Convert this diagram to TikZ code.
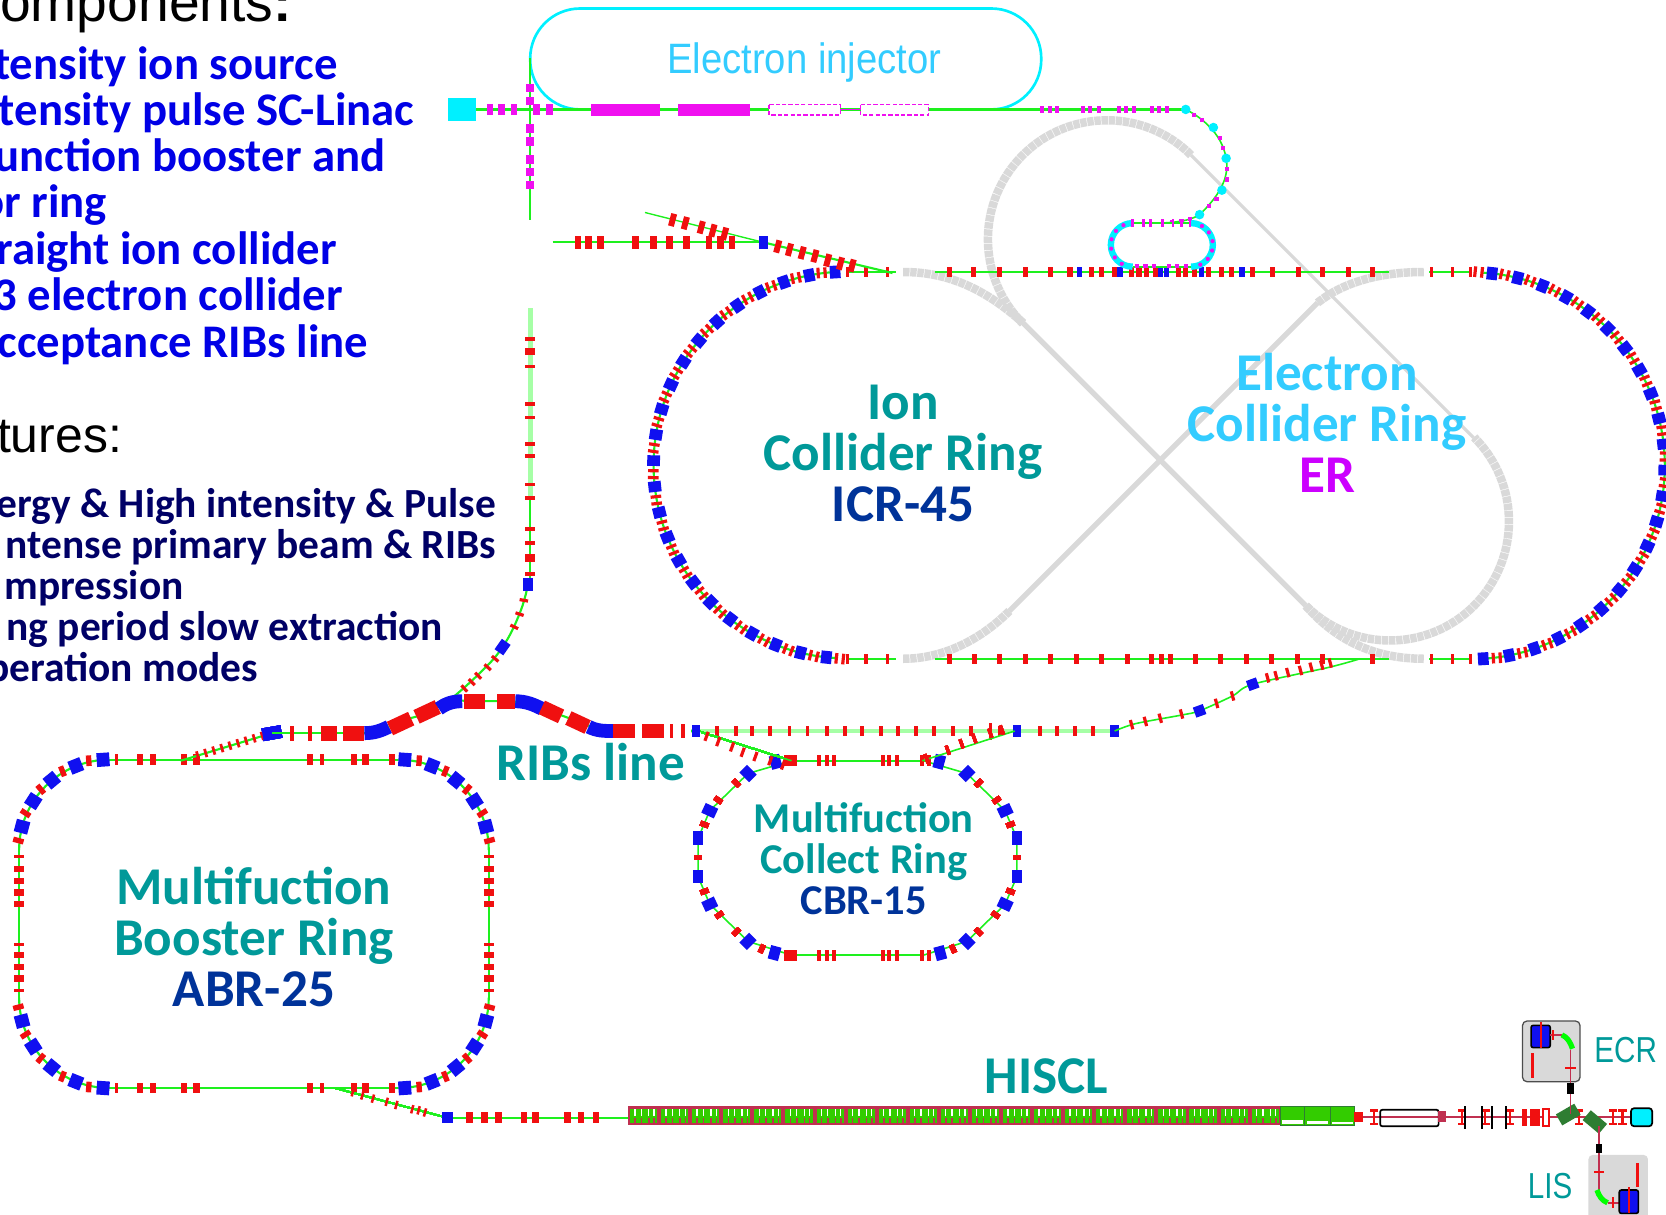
\documentclass[tikz,border=0pt]{standalone}
\usepackage{fontspec}
\setmainfont{Carlito}
\newfontfamily\arialfont{Liberation Sans}
\usetikzlibrary{decorations.markings}
\definecolor{beamgreen}{HTML}{1EF01E}
\definecolor{bendblue}{HTML}{1010F0}
\definecolor{quadred}{HTML}{F01010}
\definecolor{labelteal}{HTML}{009999}
\definecolor{labelblue}{HTML}{003399}
\definecolor{labelcyan}{HTML}{33CCFF}
\definecolor{labelmag}{HTML}{CC00FF}
\definecolor{listblue}{HTML}{0000E6}
\definecolor{listnavy}{HTML}{000066}
\definecolor{elmag}{HTML}{F010F0}
\definecolor{elcyan}{HTML}{00F0FF}
\definecolor{cellred}{HTML}{C03050}
\definecolor{cellgreen}{HTML}{33CC00}
\definecolor{bendgreen}{HTML}{2E7D32}
\definecolor{ergray}{HTML}{D9D9D9}
\newcommand{\hmags}[4]{\foreach \x in {#4} \fill[quadred] (\x-#2,#1-#3) rectangle (\x+#2,#1+#3);}
\newcommand{\vmags}[4]{\foreach \y in {#4} \fill[quadred] (#1-#3,\y-#2) rectangle (#1+#3,\y+#2);}
\newcommand{\magnet}[6]{\fill[#1,shift={(#2,#3)},rotate=#4] (-#5,-#6) rectangle (#5,#6);}
\newcommand{\icrcell}{\fill[bendblue] (-5,-6) rectangle (5,6); \fill[quadred] (8,-5) rectangle (11,5); \fill[quadred] (14.5,-5) rectangle (17.5,5);}
\newcommand{\abrcell}{\fill[bendblue] (-6,-6.5) rectangle (6,6.5); \fill[quadred] (11,-5) rectangle (16,5);}
\tikzset{
  beam/.style={beamgreen,line width=2},
  palebeam/.style={green!35,line width=4.5},
  bendcell/.style 2 args={postaction={decorate,decoration={markings,mark=between positions 0 and 1 step #1 with {#2}}}},
  erarc/.style={ergray,line width=8,dash pattern=on 6pt off .7pt},
  erline/.style={ergray,line width=5},
  ringlabel/.style={font=\bfseries\fontsize{50}{48}\selectfont,align=center,labelteal},
  smalllabel/.style={font=\bfseries\fontsize{40}{38.5}\selectfont,align=center,labelteal},
  bluelist/.style={anchor=base east,inner sep=0pt,font=\bfseries\fontsize{44}{44}\selectfont,listblue},
  navylist/.style={anchor=base east,inner sep=0pt,font=\bfseries\fontsize{39}{39}\selectfont,listnavy},
  headtext/.style={anchor=base east,inner sep=0pt,font=\arialfont\fontsize{52}{54}\selectfont},
  srclabel/.style={font=\arialfont\fontsize{34}{36}\selectfont,labelteal},
  srcbox/.style={fill=ergray,rounded corners=4pt},
}
\begin{document}
\begin{tikzpicture}[x=1pt,y=-1pt]
  \useasboundingbox (0,0) rectangle (1568,1143);
  \clip (0,0) rectangle (1568,1143);
  % left column
  \node[headtext] (headcomp) at (275,20) {omponents\textbf{:}};
  \node[bluelist] (listone) at (318,75) {tensity ion source};
  \node[bluelist] (listtwo) at (390,118) {tensity pulse SC-Linac};
  \node[bluelist] (listthree) at (363,161) {unction booster and};
  \node[bluelist] (listfour) at (101,205) {or ring};
  \node[bluelist] (listfive) at (317,249) {raight ion collider};
  \node[bluelist] (listsix) at (323,292) {3 electron collider};
  \node[bluelist] (listseven) at (347,336) {cceptance RIBs line};
  \node[headtext,font=\arialfont\fontsize{47}{49}\selectfont] (headfeat) at (115,426) {tures:};
  \node[navylist] (featone) at (467,487) {ergy \& High intensity \& Pulse};
  \node[navylist] (feattwo) at (467,526) {ntense primary beam \& RIBs};
  \node[navylist] (featthree) at (173,564) {mpression};
  \node[navylist] (featfour) at (417,603) {ng period slow extraction};
  \node[navylist] (featfive) at (243,641) {peration modes};
  % electron ring, gray
  \draw[erarc] (1121,146) arc (-45:-225:112);
  \draw[erarc] (1229,570) arc (135:-45:112);
  \draw[erline] (963,304) -- (1229,570);
  \draw[erline,line width=3] (1387,412) -- (1121,146);
  \draw[erline] (950,575) -- (1240,285);
  \draw[erarc] (850,256) .. controls (890,256) and (925,270) .. (963,304);
  \draw[erarc] (1229,570) .. controls (1255,600) and (1290,620) .. (1340,620);
  \draw[erarc] (850,620) .. controls (890,620) and (925,600) .. (950,575);
  \draw[erarc] (1240,285) .. controls (1265,265) and (1300,256) .. (1340,256);
  % ion collider ring
  \foreach \y in {256,620} {
    \draw[beam] (797,\y) -- (843,\y);
    \draw[beam] (880,\y) -- (1307,\y);
    \draw[beam] (1345,\y) -- (1385,\y);
    \hmags{\y}{1.5}{4.5}{798,815,835,1347,1367,1384}
  }
  \draw[beam,bendcell={24.6pt}{\icrcell}] (786,256) arc (-93.5:-266.5:182);
  \draw[beam,bendcell={24.6pt}{\icrcell}] (1396,620) arc (86.5:-86.5:182);
  \hmags{620}{2.4}{4.5}{894,917,941,965,989,1013,1037,1061,1084,1093,1102,1125,1149,1173,1197,1221,1245,1292}
  \hmags{256}{2.4}{4.5}{894,916,941,965,989,1007,1027,1037,1049,1065,1072,1079,1088,1109,1116,1124,1137,1150,1159,1179,1198,1222,1245,1269,1292}
  \foreach \x in {1016,1054,1092,1098,1131,1169} \fill[bendblue] (\x-2.5,251) rectangle (\x+2.5,261);
  % electron injector
  \draw[elcyan,line width=2.5,rounded corners=47pt] (560,103) -- (499,103) -- (499,8) -- (980,8) -- (980,103) -- (925,103);
  \node[font=\arialfont\fontsize{40}{42}\selectfont,labelcyan] (injlabel) at (757,59) {\scalebox{.9}[1]{Electron injector}};
  \draw[beam] (440,103) -- (1118,103);
  \draw[beam] (499,55) -- (499,207);
  \fill[elcyan] (422,92) rectangle (448,114);
  \foreach \x in {461,472,484,505,517} \fill[elmag] (\x-3,98) rectangle (\x+3,108);
  \foreach \y in {83,95,121,133,150,162,174} \fill[elmag] (495,\y-4) rectangle (503,\y+4);
  \fill[elmag] (556,98) rectangle (621,109);
  \fill[elmag] (638,98) rectangle (706,109);
  \draw[elmag,line width=1.6] (791,103) -- (810,103);
  \draw[elmag,line width=1.5,dash pattern=on 4pt off 2pt,fill=white] (724,98.5) rectangle (791,108.5);
  \draw[elmag,line width=1.5,dash pattern=on 4pt off 2pt,fill=white] (810,98.5) rectangle (874,108.5);
  \foreach \x in {981,988,995,1019,1026,1034,1053,1060,1067,1084,1091,1098} \fill[elmag] (\x-2,100) rectangle (\x+2,106);
  % electron transfer line and small oval
  \draw[beam,line width=1.5] (1116,103) .. controls (1130,110) and (1150,125) .. (1154,149) .. controls (1157,165) and (1150,182) .. (1129,202) .. controls (1120,208) and (1105,210) .. (1085,210);
  \foreach \x/\y in {1124/108,1131/113,1148/130,1151/139,1155/159,1155/169,1145/187,1138/194,1120/206,1112/208,1103/209} \fill[elmag] (\x-2,\y-2) rectangle (\x+2,\y+2);
  \foreach \x/\y in {1116/103,1142/120,1154/149,1150/179,1129/202} \fill[elcyan] (\x,\y) circle (4.5);
  \draw[beam] (1066,210) -- (1121,210);
  \draw[beam] (1066,251) -- (1121,251);
  \draw[elcyan,line width=6] (1066,210) arc (-90:-270:20.5);
  \draw[elcyan,line width=6] (1121,251) arc (90:-90:20.5);
  \foreach \a in {-115,-140,-165,-190,-215,-240} \fill[elmag] (1066,230.5) ++(\a:20.5) circle (2);
  \foreach \a in {65,40,15,-10,-35,-60} \fill[elmag] (1121,230.5) ++(\a:20.5) circle (2);
  \foreach \x in {1066,1076,1083,1094,1104,1112,1120} \fill[elmag] (\x-1.2,206) rectangle (\x+1.2,214);
  \foreach \x in {1070,1078,1086,1100,1108,1116} \fill[elmag] (\x-2,248.5) rectangle (\x+2,252);
  % injection branch to ion collider ring
  \draw[beam] (520,228) -- (718,228);
  \draw[beam,line width=1.3] (607,200) -- (718,228);
  \draw[beam] (718,228) -- (840,257);
  \hmags{228}{3}{6}{544,554,565,598,615,630,646,667,678,689}
  \foreach \x/\y in {633/207,645/210,660/214,671/217,682/220,732/232,743/235,755/238,767/241,779/245,791/248,802/250} \magnet{quadred}{\x}{\y}{-15}{2.8}{6}
  \fill[bendblue] (714,222) rectangle (723,234);
  % beam line from RIBs line up to injection
  \draw[palebeam] (499,290) -- (499,470);
  \draw[beam] (499,470) -- (499,545);
  \vmags{499}{1.8}{4.5}{319,345,380,393,418,429,456,469,498,511,540}
  \vmags{499}{3.5}{4.5}{331,525}
  \draw[beam] plot[smooth,tension=.7] coordinates {(498,545) (490,575) (473,609) (450,635) (422,660)};
  \magnet{bendblue}{497}{550}{0}{5}{6}
  \magnet{bendblue}{473}{609}{55}{6}{5}
  \foreach \x/\y/\a in {493/565/80,489/578/72,484/590/65,466/620/50,459/628/48,450/636/45,444/642/44,437/648/42} \magnet{quadred}{\x}{\y}{\a}{1.5}{4}
  % multifunction booster ring
  \draw[beam] (103,715) -- (375,715);
  \draw[beam] (103,1024) -- (375,1024);
  \draw[beam] (18,800) -- (18,939);
  \draw[beam] (460,800) -- (460,939);
  \draw[beam] (103,715) arc (-90:-180:85);
  \draw[beam] (375,715) arc (-90:0:85);
  \draw[beam] (103,1024) arc (90:180:85);
  \draw[beam] (375,1024) arc (90:0:85);
  \draw[draw=none,bendcell={26.4pt}{\abrcell}] (97,715) arc (-94:-176:85);
  \draw[draw=none,bendcell={26.4pt}{\abrcell}] (381,715) arc (-86:-4:85);
  \draw[draw=none,bendcell={26.4pt}{\abrcell}] (97,1024) arc (94:176:85);
  \draw[draw=none,bendcell={26.4pt}{\abrcell}] (381,1024) arc (86:4:85);
  \foreach \y in {715,1024} {
    \hmags{\y}{3}{5}{132,144,173,185,333,344,369}
    \hmags{\y}{1.5}{5}{110,303}
    \hmags{\y}{3}{5}{292}
  }
  \foreach \x in {18,460} {
    \vmags{\x}{3}{4.5}{818,829,840,851,899,910,921}
    \vmags{\x}{1.5}{4.5}{806,889,932}
  }
  % RIBs line
  \draw[beam] (170,716) -- (256,690);
  \foreach \i in {0,...,8} \magnet{quadred}{186+\i*7.6}{711-\i*2.3}{16}{1.3}{4}
  \magnet{bendblue}{256}{690}{10}{9}{6}
  \draw[beam] (256,690) -- (345,690);
  \hmags{690}{2}{7}{275,292}
  \fill[quadred] (302,683) rectangle (317,697);
  \fill[quadred] (323,683) rectangle (343,697);
  \draw[bendblue,line width=13] (343,690) .. controls (352,690) and (358,688) .. (366,684);
  \draw[beam] plot[smooth,tension=.6] coordinates {(366,684) (376,679) (402,671) (422,660) (447,660) (477,660) (495,662) (519,670) (544,679) (565,687) (577,688)};
  \magnet{quadred}{377}{681}{25}{11}{7}
  \magnet{quadred}{402}{670}{25}{11}{7}
  \draw[bendblue,line width=13] (413,667) .. controls (420,662) and (426,660) .. (435,660);
  \fill[quadred] (437,653) rectangle (456,667);
  \fill[quadred] (468,653) rectangle (485,667);
  \draw[bendblue,line width=13] (485,660) .. controls (495,660) and (502,663) .. (510,667);
  \magnet{quadred}{519}{670}{-25}{10}{7}
  \magnet{quadred}{544}{680}{-25}{10}{7}
  \draw[bendblue,line width=13] (554,684) .. controls (562,688) and (568,688) .. (578,688);
  \fill[quadred] (577,681) rectangle (598,695);
  \fill[quadred] (604,681) rectangle (625,695);
  \hmags{688}{1.8}{7}{632,643}
  \draw[palebeam] (650,688) -- (1048,688);
  \draw[beam] (650,688) -- (660,688);
  \fill[bendblue] (651,682) rectangle (659,694);
  \hmags{688}{1.8}{4.5}{675,693,708,725,743,760,778,795,811,829,845,862,879,897,914,941,979,995,1012,1029}
  \hmags{688}{1.2}{8}{932}
  \fill[bendblue] (953,682) rectangle (961,694);
  \fill[bendblue] (1045,682) rectangle (1053,694);
  \draw[beam,line width=1.5] plot[smooth,tension=.5] coordinates {(1049,688) (1069,681) (1112,673) (1129,669) (1160,655) (1179,644) (1251,628) (1280,620)};
  \magnet{bendblue}{1129}{669}{20}{5}{5}
  \magnet{bendblue}{1179}{644}{20}{5}{5}
  \foreach \x/\y in {1065/682,1078/679,1092/676,1112/672,1145/662,1160/655,1193/638,1201/636,1212/633,1224/631,1234/628,1244/626,1252/624} \magnet{quadred}{\x}{\y}{15}{1.5}{4.5}
  % multifunction collect ring
  \draw[beam] (745,716) -- (867,716);
  \draw[beam] (745,899) -- (867,899);
  \draw[beam,line width=1.5] plot coordinates {(745,716) (704,728) (668,763) (657,789) (657,825) (668,851) (704,886) (745,899)};
  \draw[beam,line width=1.5] plot coordinates {(869,716) (910,728) (946,763) (957,789) (957,825) (946,851) (910,886) (869,899)};
  \foreach \x/\y/\a in {730/717/15,704/728/45,668/763/65,657/789/0,657/825/0,668/851/-65,704/886/-45,729/897/-15,884/717/-15,910/728/-45,946/763/-65,957/789/0,957/825/0,946/851/65,910/886/45,885/897/15} \magnet{bendblue}{\x}{\y}{\a}{5}{6.5}
  \foreach \x/\y/\a in {693/737/45,676/753/55,663/776/70,657/807/90,663/839/-70,677/861/-55,693/877/-45,717/893/-25,921/737/-45,938/753/-55,951/776/-70,957/807/90,951/839/70,937/861/55,921/877/45,897/893/25} \magnet{quadred}{\x}{\y}{\a}{2.4}{4}
  \foreach \y in {716,899} {
    \fill[quadred] (738,\y-5) rectangle (750,\y+5);
    \hmags{\y}{2}{5}{771,778,785,831,837,844,868,874}
  }
  % transfer to collect ring and to collider
  \draw[beam,line width=1.5] (660,689) -- (745,716);
  \draw[beam,line width=1.5] (868,716) -- (955,688);
  \foreach \x/\y in {665/693,676/698,689/703,699/708,711/712,725/716,737/720} \magnet{quadred}{\x}{\y}{-20}{1.5}{4.5}
  \foreach \x/\y in {872/714,892/706,905/700,917/695,932/690,943/687} \magnet{quadred}{\x}{\y}{20}{1.5}{4.5}
  % linac
  \draw[beam,line width=1.5] (315,1024) -- (421,1052);
  \foreach \x/\y in {332/1028,341/1031,351/1034,364/1037,373/1040,388/1044,394/1045,400/1047} \magnet{quadred}{\x}{\y}{-15}{1.2}{4}
  \draw[beam] (421,1052) -- (591,1052);
  \fill[bendblue] (416,1047) rectangle (426,1057);
  \hmags{1052}{3}{5}{442,456,469,493,504,534,547,561}
  \fill[cellred] (591,1041) rectangle (1205,1059);
  \foreach \i [evaluate=\i as \xa using 591+29.25*\i] in {0,...,20} {
    \fill[cellgreen] (\xa+2,1043.5) rectangle (\xa+27.5,1057);
    \foreach \d in {6,12,19,24} {
      \fill[white] (\xa+\d,1044) rectangle (\xa+\d+1.2,1050);
      \fill[cellred] (\xa+\d,1052) rectangle (\xa+\d+1.5,1057);
    }
  }
  \fill[cellgreen] (1205,1041) rectangle (1275,1059);
  \draw[bendgreen,line width=1] (1205,1041) rectangle (1228,1059);
  \draw[bendgreen,line width=1] (1228,1041) rectangle (1252,1059);
  \draw[bendgreen,line width=1] (1252,1041) rectangle (1275,1059);
  \fill[white] (1207,1054) rectangle (1226,1058);
  \fill[white] (1230,1055) rectangle (1250,1058);
  \fill[white] (1254,1056) rectangle (1273,1058);
  % front end
  \draw[cellred,line width=1.6] (1275,1051) -- (1535,1051);
  \fill[quadred] (1274,1047) rectangle (1283,1056);
  \foreach \x in {1293,1376,1398,1421,1486,1518,1527} {
    \fill[quadred] (\x-1,1044) rectangle (\x+1,1059);
    \fill[quadred] (\x-4,1044) rectangle (\x+4,1046.5);
    \fill[quadred] (\x-4,1056.5) rectangle (\x+4,1059);
  }
  \draw[black,line width=1.6,rounded corners=2pt] (1299,1044.5) rectangle (1354,1060);
  \fill[cellred] (1353,1046) rectangle (1361,1056);
  \foreach \x in {1379,1395,1404,1417} \fill[black] (\x-1,1041) rectangle (\x+1,1063);
  \fill[quadred] (1432,1044) rectangle (1437,1060);
  \fill[quadred] (1440,1044) rectangle (1449,1060);
  \draw[quadred,line width=1.5,fill=white] (1452,1044) rectangle (1458,1060);
  \magnet{bendgreen}{1476}{1049}{30}{10}{6}
  \magnet{bendgreen}{1501}{1056}{-40}{10}{6}
  \draw[black,line width=1.6,fill=elcyan,rounded corners=3pt] (1535,1043) rectangle (1555,1060);
  % ECR
  \draw[srcbox,draw=black!70,line width=1.2] (1433,961) rectangle (1487,1018);
  \draw[black,line width=1.5,fill=bendblue,rounded corners=2pt] (1441,965) rectangle (1459,986);
  \fill[quadred] (1449,962) rectangle (1451,986);
  \draw[cellred,line width=1.6] (1459,974) -- (1470,974);
  \draw[cellred,line width=1.6] (1478,988) -- (1478,1048);
  \fill[quadred] (1461,969) rectangle (1463,979);
  \draw[green,line width=5] (1470,974) .. controls (1475,976) and (1478,981) .. (1480,987);
  \fill[quadred] (1473,1004) rectangle (1483,1006);
  \fill[quadred] (1441,991) rectangle (1444,1015);
  \fill[black] (1475,1019) rectangle (1481,1030);
  \node[srclabel] (ecrlabel) at (1530,988) {\scalebox{.82}[1]{ECR}};
  % LIS
  \fill[ergray,rounded corners=4pt] (1495,1087) rectangle (1551,1150);
  \draw[cellred,line width=1.6] (1505,1060) -- (1505,1120);
  \draw[cellred,line width=1.6] (1513,1132) -- (1524,1132);
  \fill[black] (1502,1077) rectangle (1508,1085);
  \fill[quadred] (1500,1102) rectangle (1510,1104);
  \draw[green,line width=5] (1503,1120) .. controls (1505,1126) and (1508,1130) .. (1513,1132);
  \fill[quadred] (1517,1127) rectangle (1519,1137);
  \draw[black,line width=1.5,fill=bendblue,rounded corners=2pt] (1524,1120) rectangle (1542,1142);
  \fill[quadred] (1532,1117) rectangle (1534,1142);
  \fill[quadred] (1540,1095) rectangle (1543,1117);
  \node[srclabel] (lislabel) at (1459,1116) {\scalebox{.82}[1]{LIS}};
  % ring labels
  \node[ringlabel] (icrlabel) at (850,427) {Ion\\Collider Ring\\\textcolor{labelblue}{ICR-45}};
  \node[ringlabel,labelcyan] (erlabel) at (1249,398) {Electron\\Collider Ring\\\textcolor{labelmag}{ER}};
  \node[ringlabel] (abrlabel) at (239,882) {Multifuction\\Booster Ring\\\textcolor{labelblue}{ABR-25}};
  \node[smalllabel] (cbrlabel) at (813,808) {Multifuction\\Collect Ring\\\textcolor{labelblue}{CBR-15}};
  \node[ringlabel] (ribslabel) at (556,717) {RIBs line};
  \node[ringlabel] (hisclabel) at (985,1013) {HISCL};
\end{tikzpicture}
\end{document}
